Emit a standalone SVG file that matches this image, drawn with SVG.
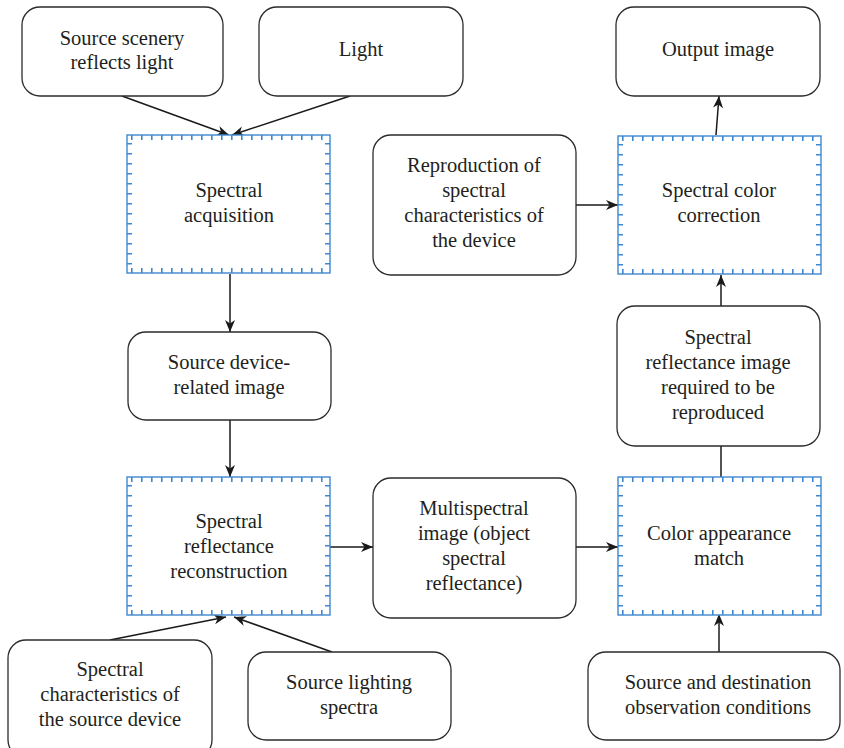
<svg xmlns="http://www.w3.org/2000/svg" xmlns:xlink="http://www.w3.org/1999/xlink" width="844" height="748" viewBox="0 0 844 748">
  <style>
    .node { fill: #ffffff; stroke: #2b2b2b; stroke-width: 1.3; }
    .frame { fill: #ffffff; stroke: #3f87d0; stroke-width: 1.4; }
    .tick { stroke: #3f87d0; stroke-width: 5; fill: none; stroke-dasharray: 1.6 8.4; }
    .label { font-family: "Liberation Serif", "DejaVu Serif", serif; font-size: 20.5px; fill: #231f20; text-anchor: middle; }
    .conn { stroke: #1a1a1a; stroke-width: 1.5; fill: none; }
  </style>
  <defs>
    <marker id="arrow" markerUnits="userSpaceOnUse" markerWidth="13" markerHeight="11" refX="12" refY="5.5" orient="auto">
      <path d="M0,0.5 L12,5.5 L0,10.5 L3.5,5.5 Z" fill="#1a1a1a"/>
    </marker>
    <!-- blue frame with inward tick marks, used for the process stages -->
    <g id="tickframe">
      <rect class="frame" x="0" y="0" width="203" height="138"/>
      <line class="tick" x1="4" y1="2.5" x2="200" y2="2.5"/>
      <line class="tick" x1="4" y1="135.5" x2="200" y2="135.5"/>
      <line class="tick" x1="2.5" y1="8" x2="2.5" y2="134"/>
      <line class="tick" x1="200.5" y1="8" x2="200.5" y2="134"/>
    </g>
  </defs>

  <rect width="844" height="748" fill="#ffffff"/>

  <g id="connectors">
    <line class="conn" x1="122" y1="96" x2="229" y2="135" marker-end="url(#arrow)"/>
    <line class="conn" x1="350" y1="96" x2="232" y2="135" marker-end="url(#arrow)"/>
    <line class="conn" x1="230" y1="274" x2="230" y2="332" marker-end="url(#arrow)"/>
    <line class="conn" x1="230" y1="420" x2="230" y2="477" marker-end="url(#arrow)"/>
    <line class="conn" x1="110" y1="640" x2="226" y2="617" marker-end="url(#arrow)"/>
    <line class="conn" x1="332" y1="652" x2="234" y2="617" marker-end="url(#arrow)"/>
    <line class="conn" x1="330" y1="547" x2="373" y2="547" marker-end="url(#arrow)"/>
    <line class="conn" x1="576" y1="547" x2="618" y2="547" marker-end="url(#arrow)"/>
    <line class="conn" x1="719" y1="652" x2="719" y2="614" marker-end="url(#arrow)"/>
    <line class="conn" x1="721" y1="446" x2="721" y2="478"/>
    <line class="conn" x1="721" y1="306" x2="721" y2="275" marker-end="url(#arrow)"/>
    <line class="conn" x1="576" y1="205" x2="618" y2="205" marker-end="url(#arrow)"/>
    <line class="conn" x1="716" y1="135" x2="719" y2="96" marker-end="url(#arrow)"/>
  </g>

  <g id="source-scenery">
    <rect class="node" x="22" y="7" width="201" height="89" rx="18"/>
    <text class="label" x="122" y="45">Source scenery</text>
    <text class="label" x="122" y="69">reflects light</text>
  </g>
  <g id="light">
    <rect class="node" x="259" y="7" width="204" height="89" rx="18"/>
    <text class="label" x="361" y="56">Light</text>
  </g>
  <g id="output-image">
    <rect class="node" x="616" y="7" width="204" height="89" rx="18"/>
    <text class="label" x="718" y="56">Output image</text>
  </g>
  <g id="spectral-acquisition">
    <use xlink:href="#tickframe" x="127" y="135"/>
    <text class="label" x="229" y="197">Spectral</text>
    <text class="label" x="229" y="222">acquisition</text>
  </g>
  <g id="device-reproduction">
    <rect class="node" x="373" y="135" width="203" height="140" rx="18"/>
    <text class="label" x="474" y="172">Reproduction of</text>
    <text class="label" x="474" y="197">spectral</text>
    <text class="label" x="474" y="222">characteristics of</text>
    <text class="label" x="474" y="247">the device</text>
  </g>
  <g id="spectral-color-correction">
    <use xlink:href="#tickframe" x="618" y="136"/>
    <text class="label" x="719" y="197">Spectral color</text>
    <text class="label" x="719" y="222">correction</text>
  </g>
  <g id="source-device-image">
    <rect class="node" x="128" y="332" width="203" height="88" rx="18"/>
    <text class="label" x="229" y="369">Source device-</text>
    <text class="label" x="229" y="394">related image</text>
  </g>
  <g id="reflectance-image">
    <rect class="node" x="617" y="306" width="203" height="140" rx="18"/>
    <text class="label" x="718" y="344">Spectral</text>
    <text class="label" x="718" y="369">reflectance image</text>
    <text class="label" x="718" y="394">required to be</text>
    <text class="label" x="718" y="419">reproduced</text>
  </g>
  <g id="reflectance-reconstruction">
    <use xlink:href="#tickframe" x="127" y="477"/>
    <text class="label" x="229" y="528">Spectral</text>
    <text class="label" x="229" y="553">reflectance</text>
    <text class="label" x="229" y="578">reconstruction</text>
  </g>
  <g id="multispectral-image">
    <rect class="node" x="373" y="478" width="203" height="140" rx="18"/>
    <text class="label" x="474" y="515">Multispectral</text>
    <text class="label" x="474" y="540">image (object</text>
    <text class="label" x="474" y="565">spectral</text>
    <text class="label" x="474" y="590">reflectance)</text>
  </g>
  <g id="color-appearance-match">
    <use xlink:href="#tickframe" x="618" y="477"/>
    <text class="label" x="719" y="540">Color appearance</text>
    <text class="label" x="719" y="565">match</text>
  </g>
  <g id="source-device-characteristics">
    <rect class="node" x="8" y="640" width="204" height="118" rx="18"/>
    <text class="label" x="110" y="676">Spectral</text>
    <text class="label" x="110" y="701">characteristics of</text>
    <text class="label" x="110" y="726">the source device</text>
  </g>
  <g id="source-lighting">
    <rect class="node" x="248" y="652" width="203" height="88" rx="18"/>
    <text class="label" x="349" y="689">Source lighting</text>
    <text class="label" x="349" y="714">spectra</text>
  </g>
  <g id="observation-conditions">
    <rect class="node" x="588" y="652" width="252" height="88" rx="18"/>
    <text class="label" x="718" y="689">Source and destination</text>
    <text class="label" x="718" y="714">observation conditions</text>
  </g>
</svg>
